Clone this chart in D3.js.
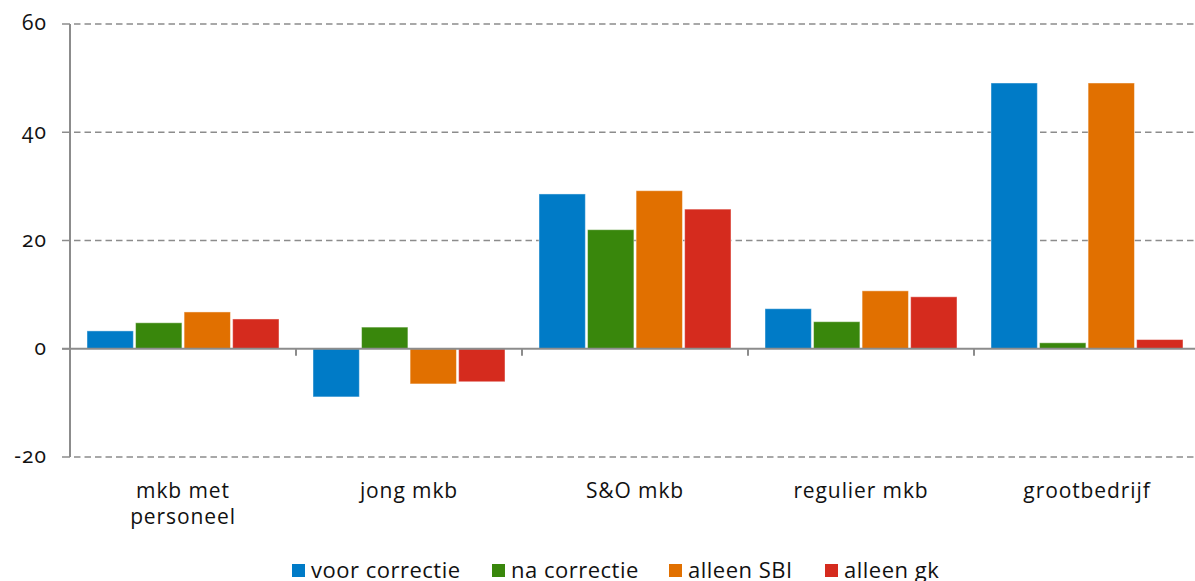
<!DOCTYPE html>
<html>
<head>
<meta charset="utf-8">
<script src="https://cdn.jsdelivr.net/npm/d3@7"></script>
<style>
  body { margin: 0; background: #fff; }
  svg { display: block; font-family: "Open Sans", "Noto Sans", sans-serif; }
  text { font-variant-numeric: oldstyle-nums; }
</style>
</head>
<body>
<svg width="1195" height="581"></svg>
<script>
const categories = [["mkb met", "personeel"], ["jong mkb"], ["S&O mkb"], ["regulier mkb"], ["grootbedrijf"]]
const seriesNames = ["voor correctie", "na correctie", "alleen SBI", "alleen gk"]
const colors = ["#007bc7", "#39870c", "#e17000", "#d52b1e"]
const voorCorrectie = [3.3, -8.9, 28.6, 7.4, 49.1]
const naCorrectie = [4.8, 4.0, 22.0, 5.0, 1.1]
const alleenSBI = [6.8, -6.5, 29.2, 10.7, 49.1]
const alleenGk = [5.5, -6.1, 25.8, 9.6, 1.7]
const yTicks = [-20, 0, 20, 40, 60]

const values = [voorCorrectie, naCorrectie, alleenSBI, alleenGk]

const svg = d3.select("svg")
const plotLeft = 70, plotRight = 1200, plotTop = 24, plotBottom = 457

const x0 = d3.scaleBand().domain(d3.range(categories.length)).range([plotLeft, plotRight])
const x1 = d3.scaleBand().domain(d3.range(seriesNames.length))
    .range([17, x0.bandwidth() - 17]).paddingInner(0.045)
const y = d3.scaleLinear().domain([-20, 60]).range([plotBottom, plotTop])

// y ticks (solid) and dashed grid lines
svg.append("g").selectAll("line")
    .data(yTicks)
    .enter().append("line")
    .attr("x1", plotLeft - 8).attr("x2", plotLeft)
    .attr("y1", d => y(d)).attr("y2", d => y(d))
    .attr("stroke", "#8c8c8c").attr("stroke-width", 1.5)

svg.append("g").selectAll("line")
    .data(yTicks.filter(d => d !== 0))
    .enter().append("line")
    .attr("x1", plotLeft + 4).attr("x2", 1195)
    .attr("y1", d => y(d)).attr("y2", d => y(d))
    .attr("stroke", "#8c8c8c").attr("stroke-width", 1.5)
    .attr("stroke-dasharray", "6.5,4")

// bars
const groups = svg.append("g").selectAll("g")
    .data(categories)
    .enter().append("g")
    .attr("transform", (d, i) => `translate(${x0(i)},0)`)

groups.selectAll("rect")
    .data((d, i) => values.map((s, k) => ({k: k, v: s[i]})))
    .enter().append("rect")
    .attr("x", d => x1(d.k))
    .attr("width", x1.bandwidth())
    .attr("y", d => y(Math.max(0, d.v)))
    .attr("height", d => Math.abs(y(d.v) - y(0)))
    .attr("fill", d => colors[d.k])
    .attr("stroke", "rgba(255,255,255,0.45)")
    .attr("stroke-width", 1)

// y axis line + zero line
svg.append("line")
    .attr("x1", plotLeft).attr("x2", plotLeft).attr("y1", plotTop).attr("y2", plotBottom)
    .attr("stroke", "#8c8c8c").attr("stroke-width", 2)
svg.append("line")
    .attr("x1", plotLeft - 8).attr("x2", 1195).attr("y1", y(0)).attr("y2", y(0))
    .attr("stroke", "#8c8c8c").attr("stroke-width", 2)

// x ticks between groups
svg.append("g").selectAll("line")
    .data(d3.range(1, categories.length))
    .enter().append("line")
    .attr("x1", d => x0(d)).attr("x2", d => x0(d))
    .attr("y1", y(0)).attr("y2", y(0) + 7)
    .attr("stroke", "#8c8c8c").attr("stroke-width", 2)

// y labels
svg.append("g").selectAll("text")
    .data(yTicks)
    .enter().append("text")
    .attr("x", 47).attr("y", d => y(d))
    .attr("dy", "0.3em")
    .attr("text-anchor", "end")
    .attr("font-size", 21)
    .attr("letter-spacing", 1)
    .attr("fill", "#111")
    .text(d => d)

// category labels
const labels = svg.append("g").selectAll("text")
    .data(categories)
    .enter().append("text")
    .attr("text-anchor", "middle")
    .attr("font-size", 21)
    .attr("letter-spacing", 0.9)
    .attr("fill", "#111")
    .attr("x", (d, i) => x0(i) + x0.bandwidth() / 2)
    .attr("y", 498)
labels.selectAll("tspan")
    .data(d => d)
    .enter().append("tspan")
    .attr("x", function () { return d3.select(this.parentNode).attr("x") })
    .attr("dy", (d, i) => i === 0 ? 0 : 25.5)
    .text(d => d)

// legend
const legendX = [292, 492, 669, 825]
const legend = svg.append("g").selectAll("g")
    .data(seriesNames)
    .enter().append("g")
    .attr("transform", (d, i) => `translate(${legendX[i]},564)`)
legend.append("rect")
    .attr("width", 13).attr("height", 13)
    .attr("fill", (d, i) => colors[i])
legend.append("text")
    .attr("x", 19).attr("y", 14)
    .attr("font-size", 22)
    .attr("letter-spacing", 0.5)
    .attr("fill", "#111")
    .text(d => d)
</script>
</body>
</html>
